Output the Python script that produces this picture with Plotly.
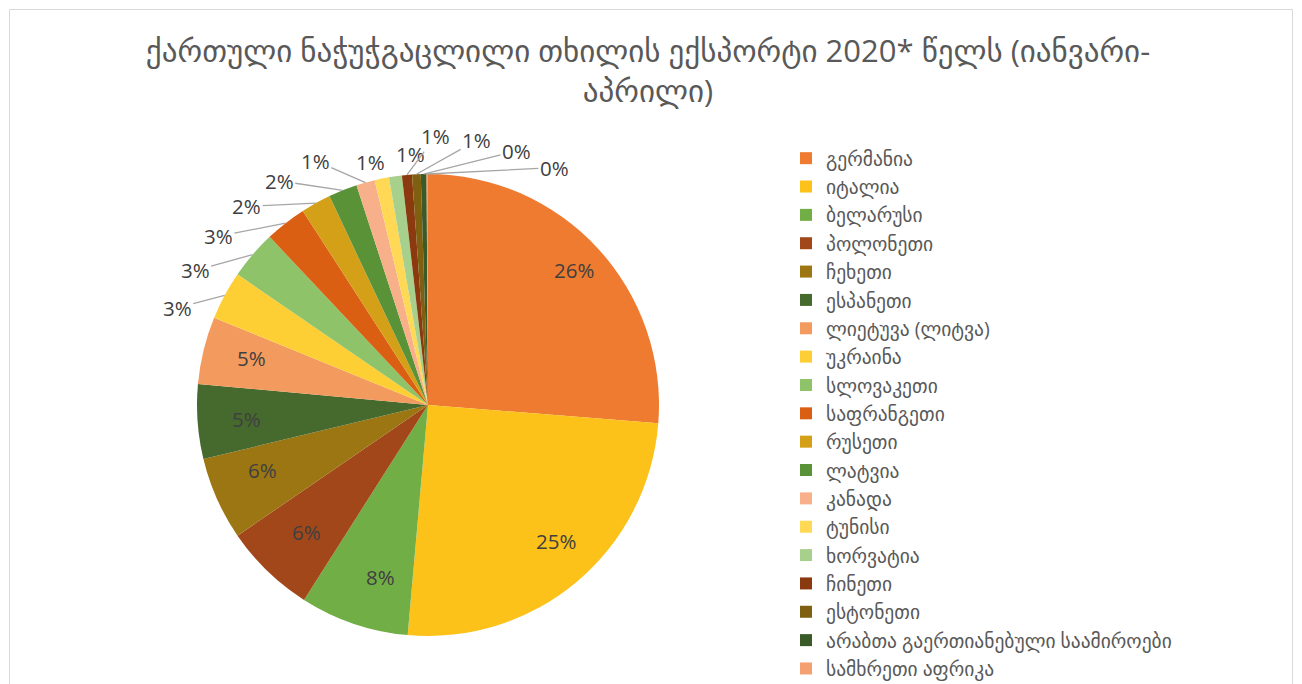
import math
import plotly.graph_objects as go

countries = [
    "გერმანია", "იტალია", "ბელარუსი", "პოლონეთი", "ჩეხეთი", "ესპანეთი",
    "ლიეტუვა (ლიტვა)", "უკრაინა", "სლოვაკეთი", "საფრანგეთი", "რუსეთი",
    "ლატვია", "კანადა", "ტუნისი", "ხორვატია", "ჩინეთი", "ესტონეთი",
    "არაბთა გაერთიანებული საამიროები", "სამხრეთი აფრიკა",
]
shares = [26.2, 25.1, 7.6, 6.4, 5.8, 5.2, 4.7, 3.4, 3.4, 2.9, 2.1, 2.0,
          1.3, 1.0, 0.9, 0.7, 0.6, 0.4, 0.1]
colors = ["#EE7B2F", "#FCC21A", "#72AE46", "#A2471A", "#9C7612", "#46692D",
          "#F39A5E", "#FDCF35", "#8EC36A", "#DA5F12", "#D4A017", "#5A9237",
          "#F7B08A", "#FFD956", "#A8D08D", "#8B3A10", "#7F6010", "#3A5A28",
          "#F4A070"]
title_text = "ქართული ნაჭუჭგაცლილი თხილის ექსპორტი 2020* წელს (იანვარი-<br>აპრილი)"

W, H = 1302, 684
OFF = 8  # page body margin
cx, cy, r = 428 - OFF, 405 - OFF, 231
font_family = "Open Sans, DejaVu Sans, sans-serif"
lab_size = 20.5

total = sum(shares)
labels_txt = [f"{round(100 * s / total)}%" for s in shares]

mids = []
acc = 0.0
for s in shares:
    mids.append((acc + s / 2) / total * 360.0)
    acc += s

inside = [s / total >= 0.045 for s in shares]

annotations = []
def px_to_paper(x, y):
    return x / W, 1 - y / H

for i, s in enumerate(shares):
    if inside[i]:
        a = math.radians(mids[i])
        rr = 0.86 * r
        x, y = px_to_paper(cx + rr * math.sin(a), cy - rr * math.cos(a))
        annotations.append(dict(x=x, y=y, xref="paper", yref="paper", text=labels_txt[i],
                                showarrow=False, font=dict(size=lab_size, color="#404040", family=font_family)))

out_idx = [i for i in range(len(shares)) if not inside[i]]
desired = [mids[i] - 360 if mids[i] > 180 else mids[i] for i in out_idx]
gap = 8.8
clusters = []
for k, d in enumerate(desired):
    clusters.append([k, 1, d])
    while len(clusters) > 1:
        p, c = clusters[-2], clusters[-1]
        if p[2] + p[1] * gap > c[2]:
            ks = list(range(p[0], p[0] + p[1] + c[1]))
            start = sum(desired[j] - (j - p[0]) * gap for j in ks) / len(ks)
            clusters[-2:] = [[p[0], p[1] + c[1], start]]
        else:
            break
placed = [0.0] * len(desired)
for c in clusters:
    for j in range(c[0], c[0] + c[1]):
        placed[j] = c[2] + (j - c[0]) * gap

R_lab = r + 38
for k, i in enumerate(out_idx):
    a = math.radians(mids[i])
    b = math.radians(placed[k])
    ex, ey = cx + r * math.sin(a), cy - r * math.cos(a)
    lx, ly = cx + R_lab * math.sin(b), cy - R_lab * math.cos(b)
    x, y = px_to_paper(ex, ey)
    moved = abs(placed[k] - desired[k]) > 6
    annotations.append(dict(
        x=x, y=y, xref="paper", yref="paper", text=labels_txt[i],
        showarrow=moved, arrowhead=0, arrowwidth=1.3, arrowcolor="#A6A6A6",
        ax=lx - ex, ay=ly - ey, standoff=0, startstandoff=0,
        xshift=0 if moved else (lx - ex), yshift=0 if moved else -(ly - ey),
        font=dict(size=lab_size, color="#404040", family=font_family)))

fig = go.Figure(go.Pie(
    labels=countries,
    values=shares,
    sort=False,
    direction="clockwise",
    rotation=0,
    marker=dict(colors=colors, line=dict(color="white", width=0)),
    textinfo="none",
    domain=dict(x=[(cx - r) / W, (cx + r) / W], y=[(H - cy - r) / H, (H - cy + r) / H]),
    hoverinfo="label+percent",
))

fig.update_layout(
    width=W, height=H,
    margin=dict(l=0, r=0, t=0, b=0, autoexpand=False),
    paper_bgcolor="white",
    font=dict(family=font_family, color="#595959"),
    title=dict(text=title_text, x=(648 - OFF) / W, xanchor="center", y=1 - (62 - OFF) / H, yanchor="top",
               yref="container", font=dict(size=31, color="#595959", family=font_family)),
    legend=dict(x=(786 - OFF) / W, xanchor="left", y=1 - (139 - OFF) / H, yanchor="top",
                font=dict(size=19.5, color="#595959", family=font_family),
                itemclick=False, tracegroupgap=0),
    annotations=annotations,
    shapes=[dict(type="rect", xref="paper", yref="paper", x0=(9.5 - OFF) / W, x1=(1292.5 - OFF) / W,
                 y0=-0.05, y1=1 - (9.5 - OFF) / H, line=dict(color="#D9D9D9", width=1),
                 fillcolor="rgba(0,0,0,0)", layer="below")],
)

fig.write_html("out.html")
